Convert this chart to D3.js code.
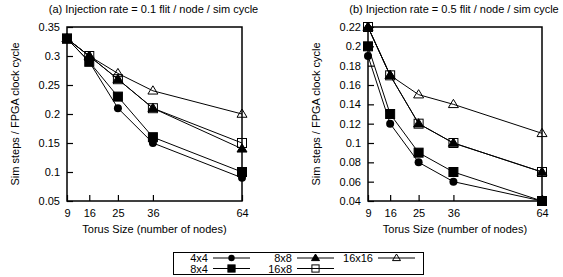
<!DOCTYPE html>
<html>
<head>
<meta charset="utf-8">
<script src="https://cdn.jsdelivr.net/npm/d3@7"></script>
<style>
  body { margin: 0; background: #fff; }
  svg { display: block; font-family: "Liberation Sans", Arial, sans-serif; }
</style>
</head>
<body>
<svg id="chart" width="563" height="277"></svg>
<script>
// ---- Data ----
const torusSizes = [9, 16, 25, 36, 64];
const seriesNames = ["4x4", "8x4", "8x8", "16x8", "16x16"];
const markerKinds = ["circle", "square", "triangle", "openSquare", "openTriangle"];

// (a) injection rate 0.1
const a4x4 = [0.33, 0.29, 0.21, 0.15, 0.09];
const a8x4 = [0.33, 0.29, 0.23, 0.16, 0.10];
const a8x8 = [0.33, 0.30, 0.26, 0.21, 0.14];
const a16x8 = [0.33, 0.30, 0.26, 0.21, 0.15];
const a16x16 = [0.33, 0.30, 0.27, 0.24, 0.20];

// (b) injection rate 0.5
const b4x4 = [0.19, 0.12, 0.08, 0.06, 0.04];
const b8x4 = [0.20, 0.13, 0.09, 0.07, 0.04];
const b8x8 = [0.22, 0.17, 0.12, 0.10, 0.07];
const b16x8 = [0.22, 0.17, 0.12, 0.10, 0.07];
const b16x16 = [0.22, 0.17, 0.15, 0.14, 0.11];

const yTicksA = [0.05, 0.1, 0.15, 0.2, 0.25, 0.3, 0.35];
const yTicksB = [0.04, 0.06, 0.08, 0.1, 0.12, 0.14, 0.16, 0.18, 0.2, 0.22];

const svg = d3.select("#chart");

// draw one marker at (x,y), sc = size factor
function marker(g, kind, x, y, sc = 1) {
  if (kind === "circle") {
    g.append("circle").attr("cx", x).attr("cy", y).attr("r", 4 * sc).attr("fill", "#000");
  } else if (kind === "square" || kind === "openSquare") {
    const h = 4.5 * sc;
    g.append("rect").attr("x", x - h).attr("y", y - h).attr("width", 2 * h).attr("height", 2 * h)
      .attr("fill", kind === "square" ? "#000" : "none").attr("stroke", "#000").attr("stroke-width", 1);
  } else {
    const s = 5 * sc;
    const pts = [[x, y - s], [x - s, y + s * 0.65], [x + s, y + s * 0.65]];
    g.append("polygon").attr("points", pts.map(p => p.join(",")).join(" "))
      .attr("fill", kind === "triangle" ? "#000" : "none").attr("stroke", "#000").attr("stroke-width", 1);
  }
}

function drawPanel(opts) {
  const x = d3.scaleLinear().domain([9, 64]).range([opts.left, opts.right]);
  const y = d3.scaleLinear().domain(opts.yDomain).range([201, 27]);
  const g = svg.append("g");

  // frame
  g.append("rect").attr("x", opts.left).attr("y", 27)
    .attr("width", opts.right - opts.left).attr("height", 174)
    .attr("fill", "none").attr("stroke", "#000").attr("stroke-width", 1.5);

  // y axis: inward ticks
  const yAxis = d3.axisLeft(y).tickValues(opts.yTicks).tickSizeInner(-6).tickSizeOuter(0)
    .tickPadding(7).tickFormat(d => d3.format("")(+d.toFixed(2)));
  const ya = g.append("g").attr("transform", `translate(${opts.left},0)`).call(yAxis);
  ya.select(".domain").remove();
  ya.selectAll(".tick line").attr("stroke-width", 1.2);
  ya.selectAll("text").attr("font-size", 11).attr("fill", "#000").attr("font-family", "Liberation Sans, Arial, sans-serif");

  // x axis: inward ticks
  const xAxis = d3.axisBottom(x).tickValues(torusSizes).tickSizeInner(-6).tickSizeOuter(0).tickPadding(8);
  const xa = g.append("g").attr("transform", "translate(0,201)").call(xAxis);
  xa.select(".domain").remove();
  xa.selectAll(".tick line").attr("stroke-width", 1.2);
  xa.selectAll("text").attr("font-size", 11).attr("fill", "#000").attr("font-family", "Liberation Sans, Arial, sans-serif");

  // titles
  g.append("text").attr("x", (opts.left + opts.right) / 2 - 1).attr("y", 13)
    .attr("text-anchor", "middle").attr("font-size", 11).text(opts.title);
  g.append("text").attr("x", (opts.left + opts.right) / 2).attr("y", 233)
    .attr("text-anchor", "middle").attr("font-size", 11).text("Torus Size (number of nodes)");
  g.append("text").attr("transform", `translate(${opts.left - 48},114) rotate(-90)`)
    .attr("text-anchor", "middle").attr("font-size", 11).text("Sim steps / FPGA clock cycle");

  // series
  const line = d3.line().x((d, i) => x(torusSizes[i])).y(d => y(d));
  opts.series.forEach((vals, k) => {
    g.append("path").attr("d", line(vals)).attr("fill", "none").attr("stroke", "#000").attr("stroke-width", 1);
    vals.forEach((v, i) => marker(g, markerKinds[k], x(torusSizes[i]), y(v)));
  });
}

drawPanel({
  left: 67, right: 242, yDomain: [0.05, 0.35], yTicks: yTicksA,
  title: "(a) Injection rate = 0.1 flit / node / sim cycle",
  series: [a4x4, a8x4, a8x8, a16x8, a16x16]
});
drawPanel({
  left: 368, right: 542, yDomain: [0.04, 0.22], yTicks: yTicksB,
  title: "(b) Injection rate = 0.5 flit / node / sim cycle",
  series: [b4x4, b8x4, b8x8, b16x8, b16x16]
});

// ---- Legend ----
const leg = svg.append("g");
leg.append("rect").attr("x", 173.5).attr("y", 252.5).attr("width", 250).attr("height", 22)
  .attr("fill", "none").attr("stroke", "#000").attr("stroke-width", 1);
const legPos = [[208, 258], [208, 268.5], [292, 258], [292, 268.5], [373, 258]];
seriesNames.forEach((name, k) => {
  const [tx, ty] = legPos[k];
  leg.append("text").attr("x", tx).attr("y", ty + 4).attr("text-anchor", "end")
    .attr("font-size", 11).text(name);
  leg.append("line").attr("x1", tx + 5).attr("x2", tx + 42).attr("y1", ty).attr("y2", ty)
    .attr("stroke", "#000").attr("stroke-width", 1);
  marker(leg, markerKinds[k], tx + 23.5, ty, 0.8);
});
</script>
</body>
</html>
